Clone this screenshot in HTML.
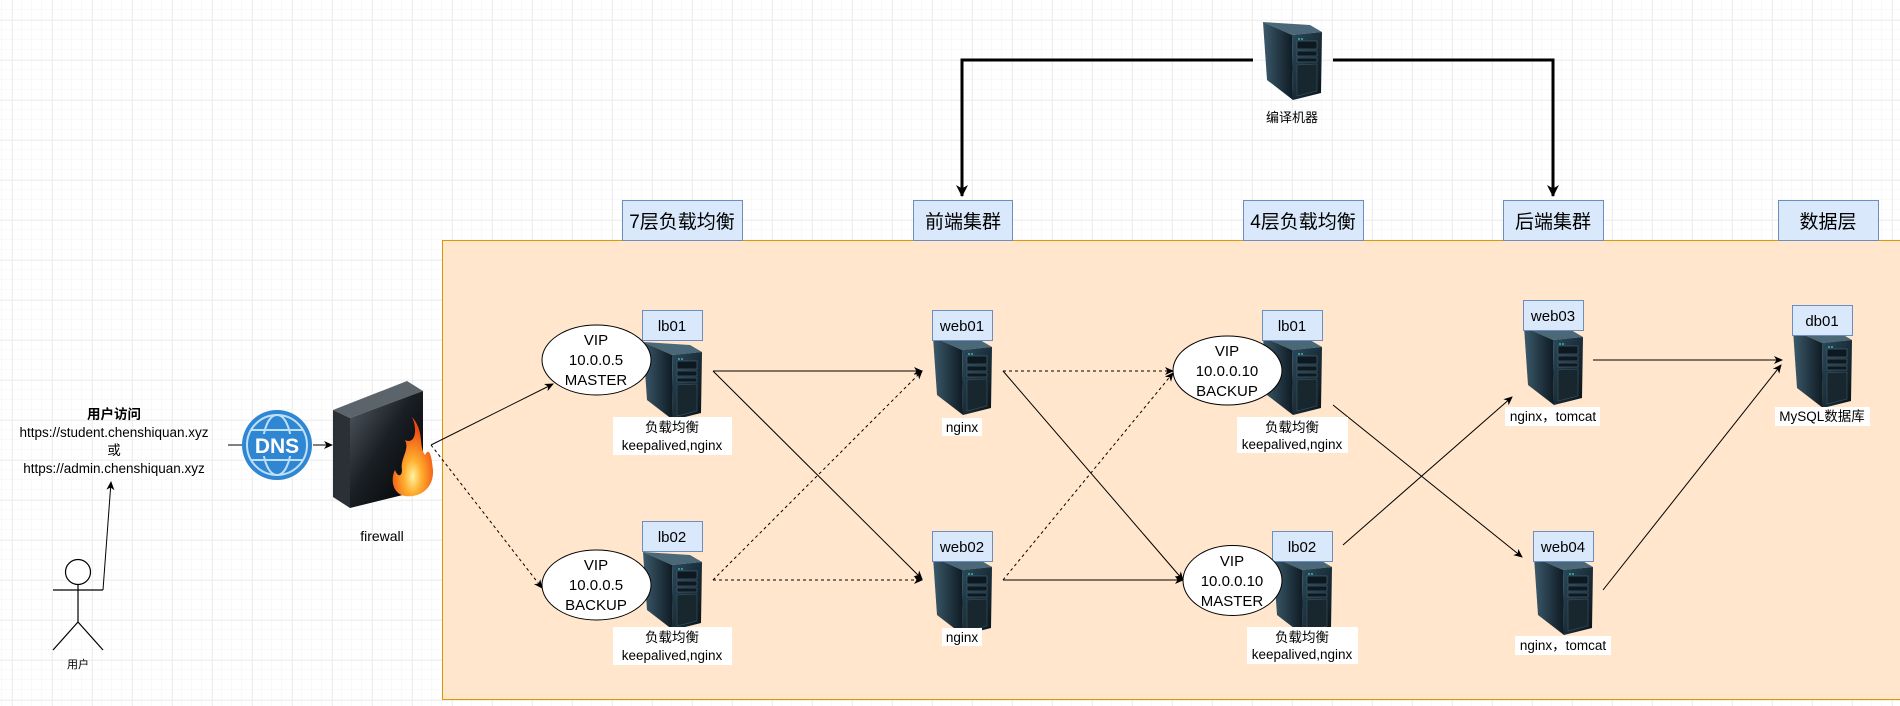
<!DOCTYPE html>
<html><head><meta charset="utf-8"><style>
html,body{margin:0;padding:0;background:#fff;}
svg{display:block;font-family:"Liberation Sans","Noto Sans CJK SC",sans-serif;}
</style></head><body>
<svg width="1900" height="706" viewBox="0 0 1900 706" xmlns="http://www.w3.org/2000/svg">
<defs>
<pattern id="minor" width="10" height="10" patternUnits="userSpaceOnUse" x="2" y="0"><path d="M10 0V10M0 10H10" fill="none" stroke="#f3f3f3" stroke-width="1"/></pattern>
<pattern id="major" width="40" height="40" patternUnits="userSpaceOnUse" x="12" y="20"><path d="M0 0V40M0 0H40" fill="none" stroke="#e0e0e0" stroke-width="1"/></pattern>
<linearGradient id="sfront" x1="0" y1="0" x2="1" y2="1"><stop offset="0" stop-color="#2a4a5c"/><stop offset="1" stop-color="#0a1218"/></linearGradient>
<linearGradient id="sside" x1="0" y1="0" x2="1" y2="0"><stop offset="0" stop-color="#3c5a6c"/><stop offset="1" stop-color="#0e1a22"/></linearGradient>
<linearGradient id="ffront" x1="0" y1="0" x2="1" y2="1"><stop offset="0" stop-color="#555d66"/><stop offset="0.45" stop-color="#1a1f24"/><stop offset="1" stop-color="#000"/></linearGradient>
<radialGradient id="flame" cx="0.5" cy="0.75" r="0.6"><stop offset="0" stop-color="#fff2a0"/><stop offset="0.35" stop-color="#ffb030"/><stop offset="1" stop-color="#f04a10"/></radialGradient>
<g id="srv">
<polygon points="1,2 48,5 60,12 30,15" fill="#4a6878"/>
<polygon points="1,2 30,15 31,80 5,60" fill="url(#sside)"/>
<polygon points="30,15 60,12 59,73 31,80" fill="url(#sfront)"/>
<rect x="35" y="21" width="20" height="8" fill="#0d1820" stroke="#4d6a7a" stroke-width="0.6"/>
<circle cx="37" cy="19" r="0.9" fill="#4fd0c0"/><circle cx="40" cy="19" r="0.9" fill="#4fd0c0"/>
<rect x="35" y="31" width="20" height="5" fill="#0d1820" stroke="#4d6a7a" stroke-width="0.6"/>
<rect x="35" y="38" width="20" height="4" fill="#0d1820" stroke="#4d6a7a" stroke-width="0.6"/>
<path d="M35 45 L55 44 L55 71 L35 76 Z" fill="#18262e" stroke="#3b5664" stroke-width="0.6"/>
</g>
<marker id="ar" markerWidth="10" markerHeight="10" refX="8" refY="5" orient="auto" markerUnits="userSpaceOnUse"><path d="M0 1 L9 5 L0 9 L2.5 5 Z" fill="#000"/></marker>
<marker id="arb" markerWidth="14" markerHeight="14" refX="11" refY="7" orient="auto" markerUnits="userSpaceOnUse"><path d="M0 1 L12 7 L0 13 L3.5 7 Z" fill="#000"/></marker>
</defs>
<rect width="1900" height="706" fill="#fff"/>
<rect width="1900" height="706" fill="url(#minor)"/>
<rect width="1900" height="706" fill="url(#major)"/>

<!-- orange region -->
<rect x="442.5" y="240.5" width="1470" height="459" fill="#ffe6cc" stroke="#d79b00" stroke-width="1"/>

<!-- headers -->
<g stroke="#6c8ebf" fill="#dae8fc">
<rect x="622.5" y="200.5" width="120" height="40"/>
<rect x="913.5" y="200.5" width="99" height="40"/>
<rect x="1243.5" y="200.5" width="120" height="40"/>
<rect x="1503.5" y="200.5" width="100" height="40"/>
<rect x="1778.5" y="200.5" width="100" height="40"/>
</g>
<g font-size="19" text-anchor="middle" fill="#000">
<text x="682" y="228">7层负载均衡</text>
<text x="963" y="228">前端集群</text>
<text x="1303" y="228">4层负载均衡</text>
<text x="1553" y="228">后端集群</text>
<text x="1828" y="228">数据层</text>
</g>

<!-- compile machine -->
<use href="#srv" x="1262" y="20"/>
<text x="1292" y="122" font-size="13" text-anchor="middle">编译机器</text>
<polyline points="1253,60 962,60 962,196" fill="none" stroke="#000" stroke-width="3" marker-end="url(#arb)"/>
<polyline points="1333,60 1553,60 1553,196" fill="none" stroke="#000" stroke-width="3" marker-end="url(#arb)"/>

<!-- connectors -->
<g stroke="#000" stroke-width="1" fill="none" marker-end="url(#ar)">
<line x1="431" y1="445" x2="553" y2="384"/>
<line x1="431" y1="445" x2="542" y2="588" stroke-dasharray="3,3"/>
<line x1="713" y1="371" x2="922" y2="371"/>
<line x1="713" y1="371" x2="922" y2="579"/>
<line x1="713" y1="580" x2="922" y2="371" stroke-dasharray="3,3"/>
<line x1="713" y1="580" x2="922" y2="580" stroke-dasharray="3,3"/>
<line x1="1003" y1="371" x2="1173" y2="371" stroke-dasharray="3,3"/>
<line x1="1003" y1="371" x2="1183" y2="580"/>
<line x1="1003" y1="580" x2="1173" y2="373" stroke-dasharray="3,3"/>
<line x1="1003" y1="580" x2="1183" y2="580"/>
<line x1="1333" y1="405" x2="1522" y2="557"/>
<line x1="1343" y1="545" x2="1512" y2="397"/>
<line x1="1593" y1="360" x2="1782" y2="360"/>
<line x1="1603" y1="590" x2="1781" y2="365"/>
<line x1="228" y1="445" x2="242" y2="445" marker-end="none"/>
<line x1="313" y1="445" x2="332" y2="445"/>
<polyline points="103,590 111,482"/>
</g>

<!-- 7-layer lb01 -->
<use href="#srv" x="642" y="340" transform="translate(0,0)"/>
<rect x="642.5" y="310.5" width="60" height="30" fill="#dae8fc" stroke="#6c8ebf"/>
<text x="672" y="331" font-size="15" text-anchor="middle">lb01</text>
<ellipse cx="596.5" cy="360" rx="54.5" ry="35" fill="#fff" stroke="#000"/>
<g font-size="15" text-anchor="middle"><text x="596" y="345">VIP</text><text x="596" y="365">10.0.0.5</text><text x="596" y="385">MASTER</text></g>
<rect x="613" y="417" width="119" height="38" fill="#fff"/>
<g font-size="13.5" text-anchor="middle"><text x="672" y="432">负载均衡</text><text x="672" y="450">keepalived,nginx</text></g>

<!-- 7-layer lb02 -->
<use href="#srv" x="642" y="550"/>
<rect x="642.5" y="521.5" width="60" height="30" fill="#dae8fc" stroke="#6c8ebf"/>
<text x="672" y="542" font-size="15" text-anchor="middle">lb02</text>
<ellipse cx="596.5" cy="585" rx="54.5" ry="35" fill="#fff" stroke="#000"/>
<g font-size="15" text-anchor="middle"><text x="596" y="570">VIP</text><text x="596" y="590">10.0.0.5</text><text x="596" y="610">BACKUP</text></g>
<rect x="613" y="627" width="119" height="38" fill="#fff"/>
<g font-size="13.5" text-anchor="middle"><text x="672" y="642">负载均衡</text><text x="672" y="660">keepalived,nginx</text></g>

<!-- web01 / web02 -->
<use href="#srv" x="932" y="335"/>
<rect x="932.5" y="310.5" width="60" height="30" fill="#dae8fc" stroke="#6c8ebf"/>
<text x="962" y="331" font-size="15" text-anchor="middle">web01</text>
<rect x="942" y="418" width="40" height="18" fill="#fff"/>
<text x="962" y="432" font-size="13.5" text-anchor="middle">nginx</text>
<use href="#srv" x="932" y="555"/>
<rect x="932.5" y="531.5" width="60" height="30" fill="#dae8fc" stroke="#6c8ebf"/>
<text x="962" y="552" font-size="15" text-anchor="middle">web02</text>
<rect x="942" y="628" width="40" height="18" fill="#fff"/>
<text x="962" y="642" font-size="13.5" text-anchor="middle">nginx</text>

<!-- 4-layer lb01 -->
<use href="#srv" x="1262" y="335"/>
<rect x="1262.5" y="310.5" width="60" height="30" fill="#dae8fc" stroke="#6c8ebf"/>
<text x="1292" y="331" font-size="15" text-anchor="middle">lb01</text>
<ellipse cx="1227.5" cy="370.5" rx="54.5" ry="34.5" fill="#fff" stroke="#000"/>
<g font-size="15" text-anchor="middle"><text x="1227" y="356">VIP</text><text x="1227" y="376">10.0.0.10</text><text x="1227" y="396">BACKUP</text></g>
<rect x="1237" y="417" width="111" height="36" fill="#fff"/>
<g font-size="13.5" text-anchor="middle"><text x="1292" y="432">负载均衡</text><text x="1292" y="449">keepalived,nginx</text></g>

<!-- 4-layer lb02 -->
<use href="#srv" x="1272" y="555"/>
<rect x="1272.5" y="531.5" width="60" height="30" fill="#dae8fc" stroke="#6c8ebf"/>
<text x="1302" y="552" font-size="15" text-anchor="middle">lb02</text>
<ellipse cx="1232.5" cy="580.5" rx="49.5" ry="35" fill="#fff" stroke="#000"/>
<g font-size="15" text-anchor="middle"><text x="1232" y="566">VIP</text><text x="1232" y="586">10.0.0.10</text><text x="1232" y="606">MASTER</text></g>
<rect x="1247" y="627" width="111" height="37" fill="#fff"/>
<g font-size="13.5" text-anchor="middle"><text x="1302" y="642">负载均衡</text><text x="1302" y="659">keepalived,nginx</text></g>

<!-- web03 / web04 -->
<use href="#srv" x="1523" y="325"/>
<rect x="1523.5" y="300.5" width="60" height="30" fill="#dae8fc" stroke="#6c8ebf"/>
<text x="1553" y="321" font-size="15" text-anchor="middle">web03</text>
<rect x="1505" y="407" width="95" height="19" fill="#fff"/>
<text x="1553" y="421" font-size="13.5" text-anchor="middle">nginx，tomcat</text>
<use href="#srv" x="1533" y="555"/>
<rect x="1533.5" y="531.5" width="60" height="30" fill="#dae8fc" stroke="#6c8ebf"/>
<text x="1563" y="552" font-size="15" text-anchor="middle">web04</text>
<rect x="1515" y="636" width="96" height="19" fill="#fff"/>
<text x="1563" y="650" font-size="13.5" text-anchor="middle">nginx，tomcat</text>

<!-- db01 -->
<use href="#srv" x="1792" y="328"/>
<rect x="1792.5" y="305.5" width="60" height="30" fill="#dae8fc" stroke="#6c8ebf"/>
<text x="1822" y="326" font-size="15" text-anchor="middle">db01</text>
<rect x="1775" y="407" width="95" height="19" fill="#fff"/>
<text x="1822" y="421" font-size="13.5" text-anchor="middle">MySQL数据库</text>

<!-- firewall -->
<polygon points="333,410 407,381 423,391 350,418" fill="#5b636b"/>
<polygon points="333,410 350,418 350,508 333,497" fill="#2a3036"/>
<polygon points="350,418 423,391 423,490 350,508" fill="url(#ffront)"/>
<path d="M412 417 C425 432 418 445 425 455 C430 445 432 460 433 470 C434 490 418 498 405 496 C393 494 390 480 395 470 C398 478 402 476 402 470 C400 458 410 450 405 440 C415 445 418 430 412 417 Z" fill="url(#flame)"/>
<text x="382" y="541" font-size="14" text-anchor="middle">firewall</text>

<!-- DNS -->
<circle cx="277" cy="445" r="35" fill="#2f86d2"/>
<circle cx="277" cy="445" r="30" fill="none" stroke="#bfe0fa" stroke-width="2"/>
<ellipse cx="277" cy="445" rx="14" ry="30" fill="none" stroke="#bfe0fa" stroke-width="2"/>
<line x1="251" y1="430" x2="303" y2="430" stroke="#bfe0fa" stroke-width="2"/>
<line x1="251" y1="460" x2="303" y2="460" stroke="#bfe0fa" stroke-width="2"/>
<rect x="250" y="434" width="54" height="22" fill="#2f86d2"/>
<text x="277" y="453" font-size="21" font-weight="bold" fill="#fff" text-anchor="middle">DNS</text>

<!-- user text -->
<g font-size="13.5" text-anchor="middle">
<text x="114" y="419" font-weight="bold">用户访问</text>
<text x="114" y="437">https://student.chenshiquan.xyz</text>
<text x="114" y="455">或</text>
<text x="114" y="473">https://admin.chenshiquan.xyz</text>
</g>

<!-- stick figure -->
<g stroke="#000" stroke-width="1.2" fill="none">
<circle cx="78" cy="572" r="12.5" fill="#fff"/>
<line x1="78" y1="585" x2="78" y2="622"/>
<line x1="53" y1="590" x2="103" y2="590"/>
<line x1="78" y1="622" x2="53" y2="650"/>
<line x1="78" y1="622" x2="103" y2="650"/>
</g>
<text x="78" y="668" font-size="11" text-anchor="middle">用户</text>
</svg>
</body></html>
